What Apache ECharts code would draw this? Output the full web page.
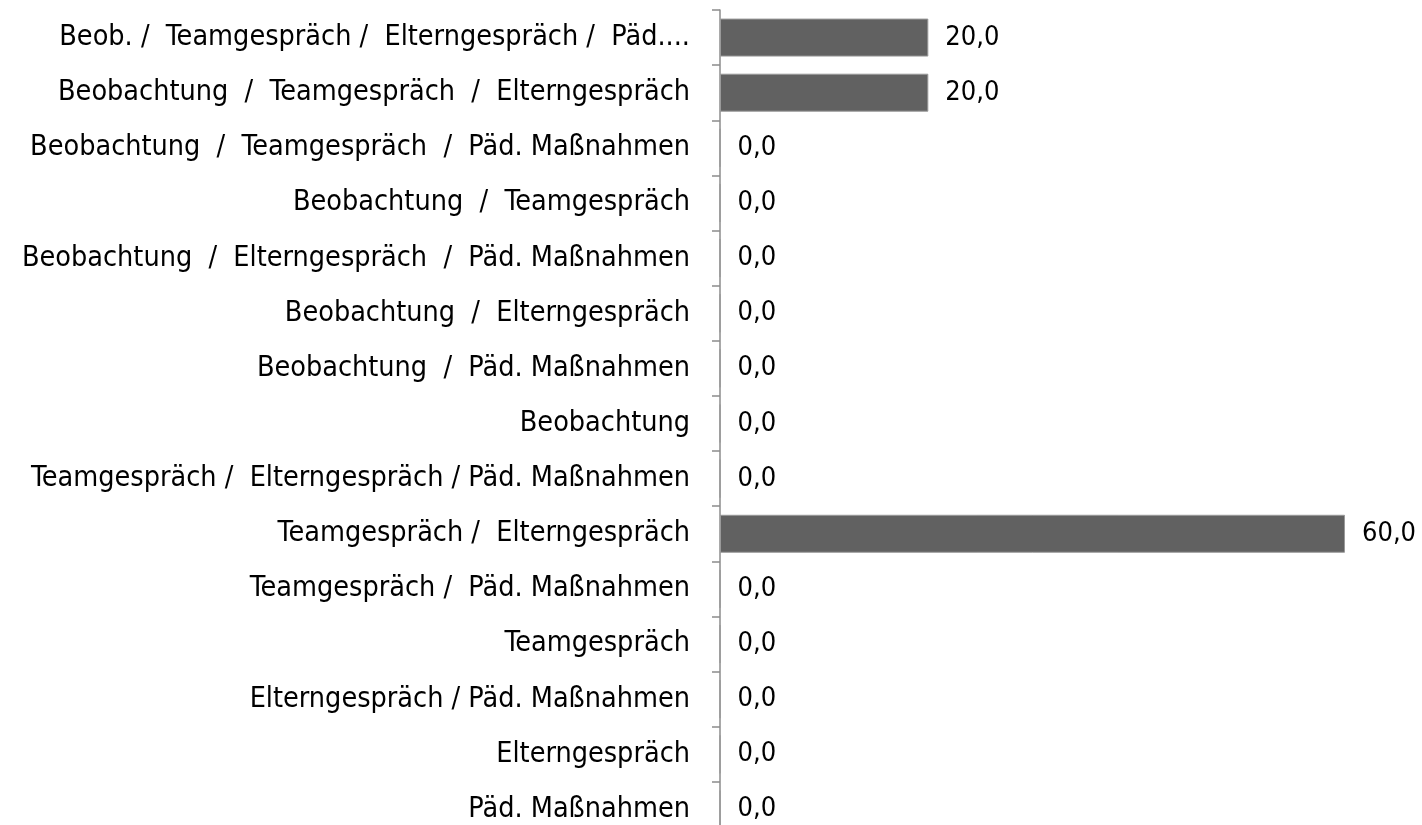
<!DOCTYPE html>
<html>
<head>
<meta charset="utf-8">
<script src="https://cdn.jsdelivr.net/npm/echarts@6/dist/echarts.min.js"></script>
<style>
  html, body { margin: 0; padding: 0; background: #fff; }
  #chart { width: 1422px; height: 825px; }
</style>
</head>
<body>
<div id="chart"></div>
<script>
// Kategorien (von oben nach unten)
const categories = [
    'Beob. /  Teamgespräch /  Elterngespräch /  Päd....',
    'Beobachtung  /  Teamgespräch  /  Elterngespräch',
    'Beobachtung  /  Teamgespräch  /  Päd. Maßnahmen',
    'Beobachtung  /  Teamgespräch',
    'Beobachtung  /  Elterngespräch  /  Päd. Maßnahmen',
    'Beobachtung  /  Elterngespräch',
    'Beobachtung  /  Päd. Maßnahmen',
    'Beobachtung',
    'Teamgespräch /  Elterngespräch / Päd. Maßnahmen',
    'Teamgespräch /  Elterngespräch',
    'Teamgespräch /  Päd. Maßnahmen',
    'Teamgespräch',
    'Elterngespräch / Päd. Maßnahmen',
    'Elterngespräch',
    'Päd. Maßnahmen'
];

// Prozentwerte
const values = [20, 20, 0, 0, 0, 0, 0, 0, 0, 60, 0, 0, 0, 0, 0];

const fontFamily = '"DejaVu Sans Condensed", "DejaVu Sans", sans-serif';

const chart = echarts.init(document.getElementById('chart'));

chart.setOption({
    animation: false,
    grid: {
        left: 720,
        right: 77,
        top: 10,
        height: 827,
        containLabel: false,
        outerBoundsMode: 'none'
    },
    xAxis: {
        type: 'value',
        min: 0,
        max: 60,
        show: false
    },
    yAxis: {
        type: 'category',
        inverse: true,
        data: categories,
        axisLine: { show: true, lineStyle: { color: '#8c8c8c', width: 1.5 } },
        axisTick: { show: true, length: 8, lineStyle: { color: '#8c8c8c', width: 1.5 } },
        axisLabel: {
            margin: 30,
            color: '#000',
            fontSize: 28.5,
            fontFamily: fontFamily
        },
        splitLine: { show: false }
    },
    series: [{
        type: 'bar',
        data: values,
        barWidth: 38,
        itemStyle: {
            color: '#616161',
            borderColor: '#9a9a9a',
            borderWidth: 1
        },
        label: {
            show: true,
            position: 'right',
            distance: 17,
            color: '#000',
            fontSize: 27,
            fontFamily: fontFamily,
            formatter: (p) => p.value.toFixed(1).replace('.', ',')
        }
    }]
});
</script>
</body>
</html>
